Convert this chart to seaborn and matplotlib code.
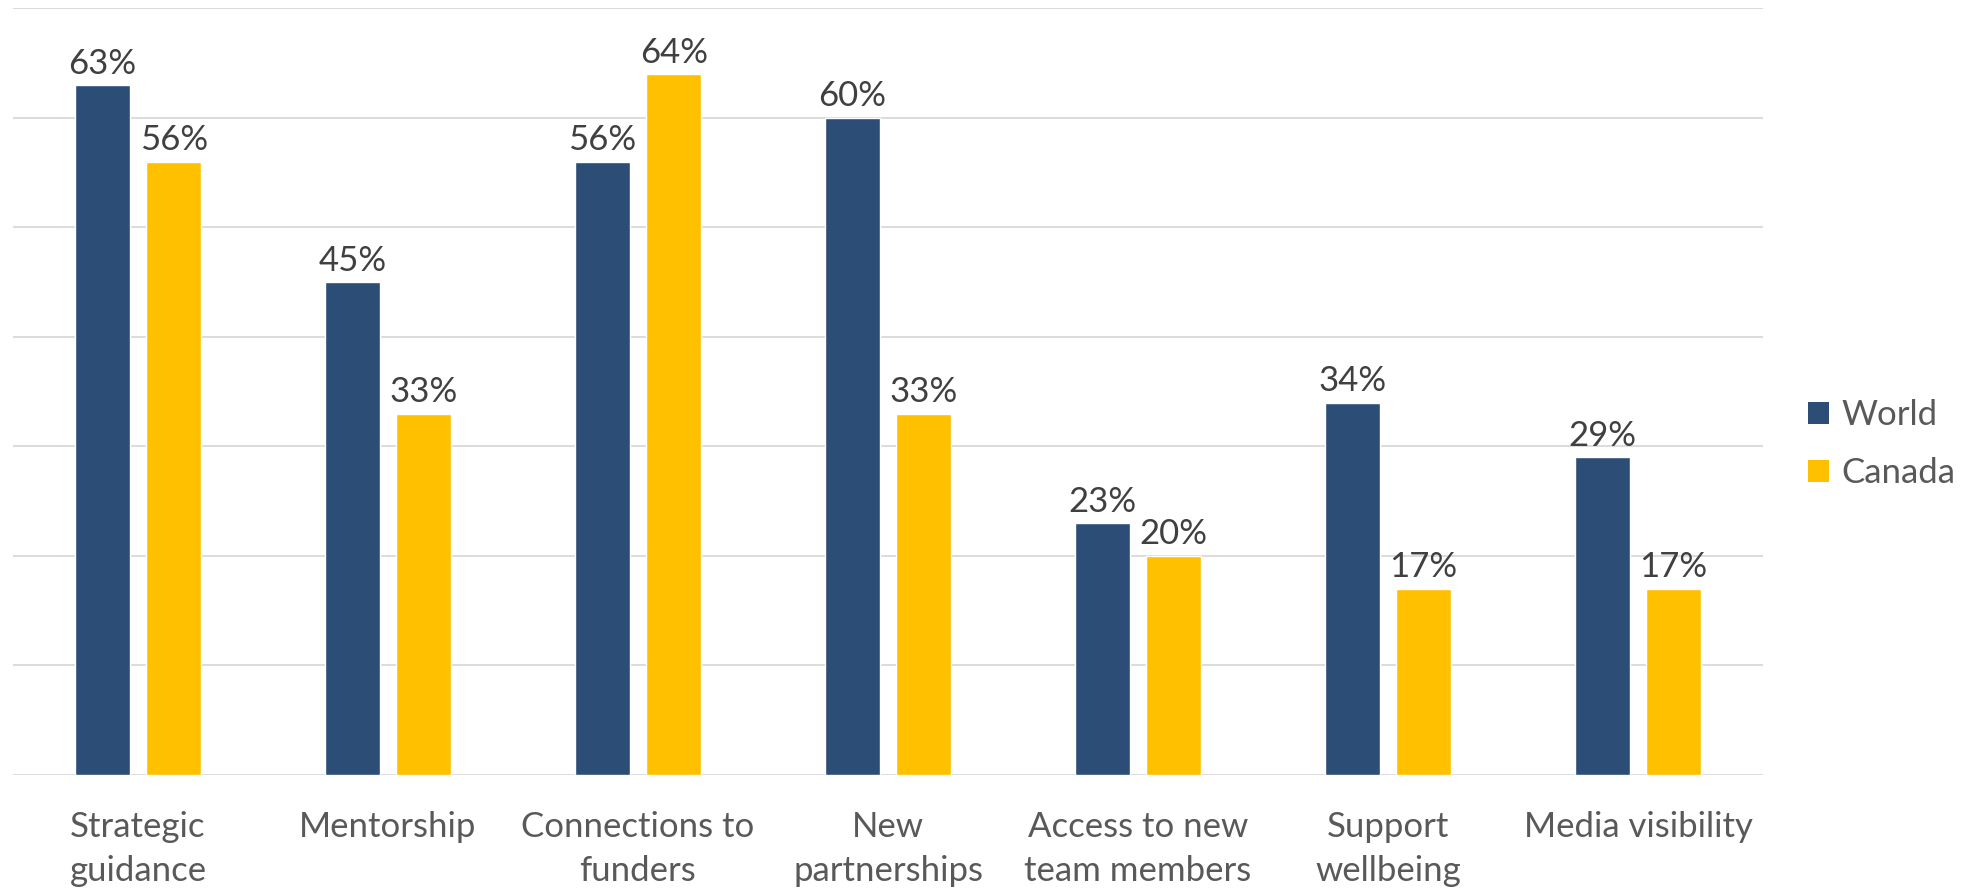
import matplotlib
matplotlib.use("Agg")
import matplotlib.pyplot as plt
import seaborn as sns
import pandas as pd
from matplotlib.patches import Patch

categories = ["Strategic\nguidance", "Mentorship", "Connections to\nfunders",
              "New\npartnerships", "Access to new\nteam members", "Support\nwellbeing",
              "Media visibility"]
series = ["World", "Canada"]
world = [63, 45, 56, 60, 23, 34, 29]
canada = [56, 33, 64, 33, 20, 17, 17]
colors = {"World": "#2C4D75", "Canada": "#FFC000"}

df = pd.DataFrame({
    "category": categories * 2,
    "region": ["World"] * len(world) + ["Canada"] * len(canada),
    "value": world + canada,
})

sns.set_theme(style="white")
plt.rcParams["font.family"] = ["Lato", "DejaVu Sans"]

fig = plt.figure(figsize=(19.7, 8.91), dpi=100)
ax = fig.add_axes([13 / 1970, 116 / 891, 1750 / 1970, (775 - 8.4) / 891])

sns.barplot(data=df, x="category", y="value", hue="region", hue_order=series,
            order=categories, palette=colors, width=0.57, gap=0.22,
            saturation=1, legend=False, ax=ax)

ax.set_ylim(0, 70)
ax.set_xlim(-0.5, len(categories) - 0.5)
ax.set_yticks(range(0, 71, 10))
ax.yaxis.grid(True, color="#D9D9D9", linewidth=1.3)
ax.set_axisbelow(True)
ax.tick_params(axis="y", left=False, labelleft=False)
ax.tick_params(axis="x", bottom=False, pad=20, labelsize=25, labelcolor="#595959")
for lbl in ax.get_xticklabels():
    lbl.set_linespacing(1.45)
ax.set_xlabel("")
ax.set_ylabel("")
for s in ax.spines.values():
    s.set_visible(False)

for container, name in zip(ax.containers, series):
    vals = world if name == "World" else canada
    ax.bar_label(container, labels=[f"{v}%" for v in vals], padding=4,
                 fontsize=25, color="#404040")

handles = [Patch(facecolor=colors[s], edgecolor="none") for s in series]
fig.legend(handles, series, loc="center left", bbox_to_anchor=(1777 / 1970, 1 - 444 / 891),
           frameon=False, fontsize=25, labelcolor="#595959", handlelength=0.6,
           handleheight=0.6, handletextpad=0.35, labelspacing=0.75)

fig.savefig("out.png", dpi=100)
